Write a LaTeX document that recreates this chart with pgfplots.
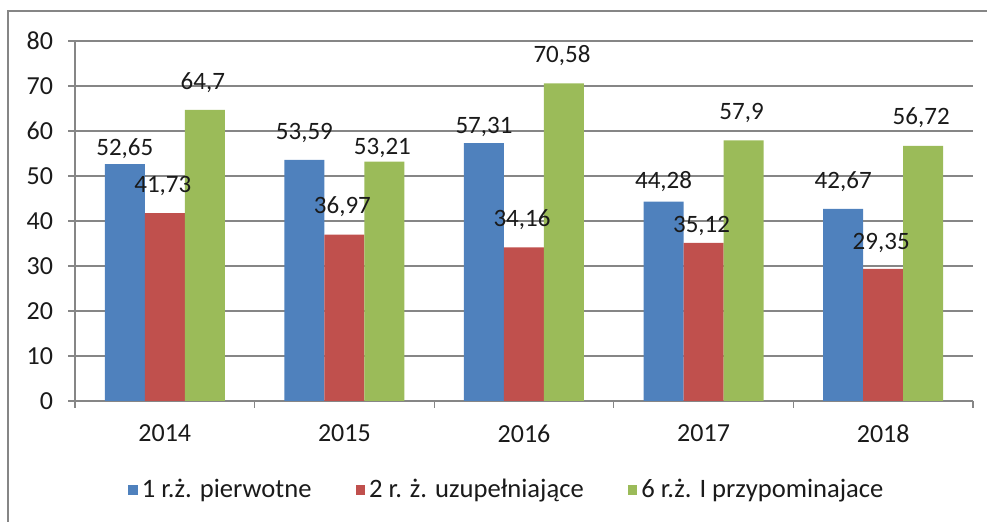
\documentclass[border=0pt]{standalone}
\usepackage{fontspec}
\setmainfont{Carlito}
\usepackage{pgfplots}
\usepackage{pgfplotstable}
\pgfplotsset{compat=1.18}
\definecolor{sblue}{HTML}{4F81BD}
\definecolor{sred}{HTML}{C0504D}
\definecolor{sgreen}{HTML}{9BBB59}
\definecolor{axisgray}{HTML}{868686}
\definecolor{txt}{HTML}{1A1A1A}

\pgfplotstableread{
x  a      b      c      la    lb    lc    ta     tb     tc
0  52.65  41.73  64.70  56.0  47.8  70.7  52,65  41,73  64,7
1  53.59  36.97  53.21  59.6  43.2  56.2  53,59  36,97  53,21
2  57.31  34.16  70.58  61.0  40.2  76.7  57,31  34,16  70,58
3  44.28  35.12  57.90  48.7  38.9  64.1  44,28  35,12  57,9
4  42.67  29.35  56.72  48.7  35.2  62.9  42,67  29,35  56,72
}\data

\begin{document}
\begin{tikzpicture}
\useasboundingbox (0,0) rectangle (493.5pt,261pt);
\draw[axisgray, line width=1.3pt] (4pt,0) -- (4pt,255.5pt) -- (493.5pt,255.5pt);
\begin{axis}[
  at={(37.5pt,60.5pt)}, anchor=south west,
  scale only axis, width=449pt, height=180pt,
  xmin=-0.5, xmax=4.5, ymin=0, ymax=80,
  ytick={0,10,...,80},
  xtick={-0.5,0.5,1.5,2.5,3.5,4.5},
  xticklabels={2014,2015,2016,2017,2018,{}},
  xticklabel style={xshift=44.9pt, yshift=-5pt},
  yticklabel style={xshift=-4pt},
  axis x line*=bottom, axis y line*=left,
  axis line style={draw=axisgray, line width=0.6pt, -},
  tick align=outside, major tick length=3.5pt,
  tick style={draw=axisgray, line width=0.6pt},
  ymajorgrids, grid style={draw=axisgray, line width=0.6pt},
  /pgf/number format/assume math mode=true,
  tick label style={font=\fontsize{13}{15}\selectfont, text=txt},
  legend style={draw=none, at={(0.482,-0.247)}, anchor=center,
    legend columns=3, font=\fontsize{13.3}{15}\selectfont, text=txt,
    /tikz/every even column/.append style={column sep=20pt}},
  legend image code/.code={\fill[#1] (0pt,-2.4pt) rectangle (4.8pt,2.4pt);},
  clip=false,
]
\addplot[ybar, bar width=20pt, bar shift=-20pt, fill=sblue, draw=none] table[x=x,y=a]{\data};
\addlegendentry{1 r.ż. pierwotne}
\addplot[ybar, bar width=20pt, bar shift=0pt, fill=sred, draw=none] table[x=x,y=b]{\data};
\addlegendentry{2 r. ż. uzupełniające}
\addplot[ybar, bar width=20pt, bar shift=20pt, fill=sgreen, draw=none] table[x=x,y=c]{\data};
\addlegendentry{6 r.ż. I przypominajace}

\addplot[forget plot, draw=none, mark=none, nodes near coords, point meta=explicit symbolic,
  nodes near coords style={anchor=center, xshift=-20pt, inner sep=0pt, font=\fontsize{12.5}{15}\selectfont, text=txt}]
  table[x=x, y=la, meta=ta]{\data};
\addplot[forget plot, draw=none, mark=none, nodes near coords, point meta=explicit symbolic,
  nodes near coords style={anchor=center, xshift=-1pt, inner sep=0pt, font=\fontsize{12.5}{15}\selectfont, text=txt}]
  table[x=x, y=lb, meta=tb]{\data};
\addplot[forget plot, draw=none, mark=none, nodes near coords, point meta=explicit symbolic,
  nodes near coords style={anchor=center, xshift=19pt, inner sep=0pt, font=\fontsize{12.5}{15}\selectfont, text=txt}]
  table[x=x, y=lc, meta=tc]{\data};
\end{axis}
\end{tikzpicture}
\end{document}
